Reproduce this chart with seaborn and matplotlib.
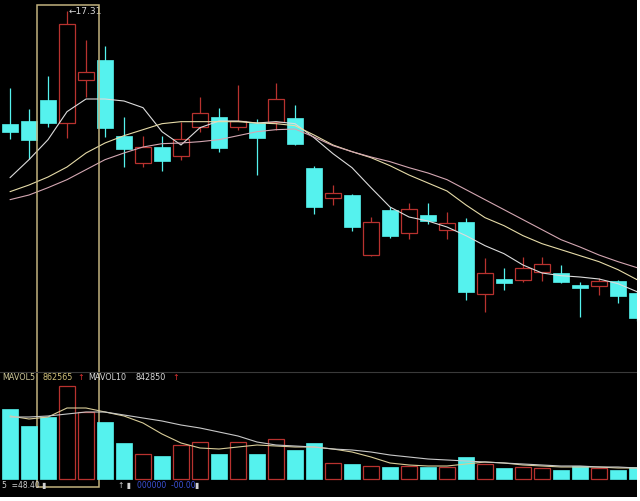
import numpy as np
import pandas as pd
import matplotlib
matplotlib.use('Agg')
import matplotlib.pyplot as plt
import seaborn as sns
from matplotlib.patches import Rectangle

# daily candles (price)
opens  = [15.62, 15.66, 15.98, 15.63, 16.28, 16.58, 15.44, 15.03, 15.27, 15.14, 15.57, 15.72,
          15.57, 15.63, 15.65, 15.71, 14.96, 14.51, 14.55, 13.65, 14.33, 13.98, 14.25, 14.03,
          14.15, 13.07, 13.29, 13.28, 13.40, 13.38, 13.20, 13.19, 13.26, 13.08]
highs  = [16.16, 15.84, 16.34, 17.31, 16.88, 16.79, 15.72, 15.44, 15.44, 15.65, 16.02, 15.86,
          16.20, 15.69, 16.23, 15.90, 14.99, 14.70, 14.57, 14.22, 14.37, 14.43, 14.43, 14.30,
          14.21, 13.61, 13.46, 13.62, 13.62, 13.50, 13.25, 13.31, 13.28, 13.13]
lows   = [15.39, 15.09, 15.57, 15.41, 16.02, 15.42, 14.97, 14.97, 14.91, 15.08, 15.50, 15.20,
          15.53, 14.85, 15.53, 15.30, 14.27, 14.40, 14.01, 13.64, 13.91, 13.89, 14.12, 13.89,
          12.98, 12.80, 13.13, 13.25, 13.26, 13.23, 12.72, 13.05, 12.93, 12.66]
closes = [15.50, 15.38, 15.63, 17.12, 16.40, 15.56, 15.24, 15.27, 15.06, 15.39, 15.78, 15.26,
          15.66, 15.41, 15.99, 15.32, 14.37, 14.58, 14.07, 14.15, 13.94, 14.34, 14.16, 14.13,
          13.10, 13.38, 13.23, 13.46, 13.52, 13.25, 13.16, 13.26, 13.04, 12.71]

# moving averages
ma5  = [14.81, 15.08, 15.38, 15.80, 15.99, 15.99, 15.96, 15.86, 15.50, 15.30, 15.56, 15.66,
        15.66, 15.63, 15.65, 15.62, 15.41, 15.17, 14.96, 14.66, 14.37, 14.22, 14.16, 14.07,
        13.94, 13.79, 13.67, 13.50, 13.38, 13.34, 13.32, 13.29, 13.22, 13.10]
ma10 = [14.60, 14.70, 14.82, 14.97, 15.18, 15.33, 15.44, 15.53, 15.62, 15.65, 15.65, 15.65,
        15.65, 15.63, 15.62, 15.59, 15.45, 15.30, 15.20, 15.11, 14.99, 14.85, 14.73, 14.61,
        14.40, 14.21, 14.09, 13.94, 13.82, 13.73, 13.64, 13.55, 13.43, 13.28]
ma20 = [14.48, 14.55, 14.66, 14.78, 14.93, 15.08, 15.18, 15.27, 15.32, 15.33, 15.35, 15.38,
        15.44, 15.50, 15.53, 15.54, 15.42, 15.29, 15.20, 15.12, 15.05, 14.96, 14.88, 14.78,
        14.63, 14.48, 14.33, 14.18, 14.03, 13.88, 13.77, 13.65, 13.55, 13.46]

# volume and its averages
volume = [875000, 662500, 775000, 1162500, 837500, 712500, 450000, 312500, 287500, 425000,
          462500, 312500, 462500, 312500, 500000, 362500, 450000, 200000, 187500, 162500,
          150000, 162500, 150000, 150000, 275000, 187500, 137500, 150000, 137500, 112500,
          162500, 137500, 112500, 150000]
mavol5 = [787500, 750000, 775000, 887500, 887500, 837500, 787500, 700000, 562500, 450000,
          387500, 375000, 400000, 425000, 412500, 400000, 400000, 375000, 337500, 275000,
          200000, 175000, 162500, 162500, 187500, 212500, 200000, 175000, 162500, 150000,
          150000, 150000, 137500, 137500]
mavol10 = [775000, 775000, 787500, 812500, 837500, 837500, 800000, 762500, 725000, 675000,
           637500, 587500, 537500, 462500, 425000, 412500, 400000, 375000, 362500, 337500,
           300000, 275000, 250000, 237500, 225000, 212500, 200000, 187500, 175000, 162500,
           162500, 150000, 150000, 137500]

selected = [2, 4]   # candles inside the highlight frame

df = pd.DataFrame({'open': opens, 'high': highs, 'low': lows, 'close': closes,
                   'vol': volume, 'ma5': ma5, 'ma10': ma10, 'ma20': ma20,
                   'mavol5': mavol5, 'mavol10': mavol10})
df['x'] = np.arange(len(df))
df['up'] = df['close'] >= df['open']

sns.set_theme(style="dark", rc={'axes.facecolor': 'black', 'figure.facecolor': 'black'})
plt.rcParams['font.family'] = ['DejaVu Sans']

UP = '#b8322f'
DOWN = '#55f2ee'
W = 0.79

fig = plt.figure(figsize=(6.4, 5.01), dpi=100, facecolor='black')
ax1 = fig.add_axes([0, (501 - 372) / 501, 637 / 640, 372 / 501])
ax2 = fig.add_axes([0, 4 / 501, 637 / 640, 125 / 501])

# --- price panel
up = df[df['up']]
dn = df[~df['up']]
ax1.vlines(dn['x'], dn['low'], dn['high'], color=DOWN, lw=0.9, zorder=2)
ax1.vlines(up['x'], up['close'], up['high'], color=UP, lw=0.9, zorder=2)
ax1.vlines(up['x'], up['low'], up['open'], color=UP, lw=0.9, zorder=2)
ax1.bar(dn['x'], (dn['open'] - dn['close']).clip(lower=0.02), bottom=dn['close'],
        width=W, color=DOWN, edgecolor=DOWN, lw=0.5, zorder=3)
ax1.bar(up['x'], (up['close'] - up['open']).clip(lower=0.02), bottom=up['open'],
        width=W, facecolor='black', edgecolor=UP, lw=0.9, zorder=3)

for col, c in [('ma5', '#dcdcdc'), ('ma10', '#e6dba8'), ('ma20', '#d4a7b2')]:
    sns.lineplot(data=df, x='x', y=col, ax=ax1, color=c, lw=0.8, zorder=4)

ax1.text(df['x'][3] + 0.08, df['high'][3], '\u219017.31', color='#d8d8d8',
         fontsize=6.5, va='center', ha='left', zorder=5)

ax1.set_xlim(-10 / 19, 33)
ax1.set_ylim(11.895, 17.475)

# highlight frame spanning both panels
x0 = selected[0] - 0.58
x1 = selected[1] + 0.68
ax1.add_patch(Rectangle((x0, 10.17), x1 - x0, 17.40 - 10.17, fill=False,
                        edgecolor='#c2b27e', lw=1.1, clip_on=False, zorder=6))

# --- volume panel
ax2.set_facecolor('none')
ax2.bar(dn['x'], dn['vol'], width=W, color=DOWN, edgecolor=DOWN, lw=0.5, zorder=3)
ax2.bar(up['x'], up['vol'], width=W, facecolor='black', edgecolor=UP, lw=0.9, zorder=3)
sns.lineplot(data=df, x='x', y='mavol5', ax=ax2, color='#d8cc98', lw=0.8, zorder=4)
sns.lineplot(data=df, x='x', y='mavol10', ax=ax2, color='#c8c8c8', lw=0.8, zorder=4)
ax2.set_xlim(-10 / 19, 33)
ax2.set_ylim(-225000, 1337500)

t = ax2.transAxes
ax2.text(0.003, 0.955, 'MAVOL5', color='#cfc99a', fontsize=5.8, va='center', transform=t)
ax2.text(0.066, 0.955, '862565', color='#cfc07a', fontsize=5.8, va='center', transform=t)
ax2.text(0.122, 0.955, '\u2191', color='#e03030', fontsize=5.8, va='center', transform=t)
ax2.text(0.138, 0.955, 'MAVOL10', color='#d8d8d8', fontsize=5.8, va='center', transform=t)
ax2.text(0.212, 0.955, '842850', color='#d8d8d8', fontsize=5.8, va='center', transform=t)
ax2.text(0.270, 0.955, '\u2191', color='#e03030', fontsize=5.8, va='center', transform=t)
ax2.text(0.003, 0.09, '5  =48.40 \u25ae', color='#d0d0d0', fontsize=5.5, va='center', transform=t)
ax2.text(0.185, 0.09, '\u2191 \u25ae', color='#d0d0d0', fontsize=5.5, va='center', transform=t)
ax2.text(0.215, 0.09, '000000  -00.00', color='#3c52d8', fontsize=5.5, va='center', transform=t)
ax2.text(0.305, 0.09, '\u25ae', color='#d0d0d0', fontsize=5.5, va='center', transform=t)

for ax in (ax1, ax2):
    ax.set_xticks([])
    ax.set_yticks([])
    ax.set_xlabel('')
    ax.set_ylabel('')
    for s in ax.spines.values():
        s.set_visible(False)
ax2.spines['top'].set_visible(True)
ax2.spines['top'].set_color('#3a3a3a')
ax2.spines['top'].set_linewidth(0.8)

# white margins of the screenshot (right and bottom edges)
fig.add_artist(Rectangle((637 / 640, 0), 3 / 640, 1, transform=fig.transFigure,
                         facecolor='white', edgecolor='none', zorder=10))
fig.add_artist(Rectangle((0, 0), 1, 4 / 501, transform=fig.transFigure,
                         facecolor='white', edgecolor='none', zorder=10))

plt.savefig('out.png', dpi=100, facecolor='black')
